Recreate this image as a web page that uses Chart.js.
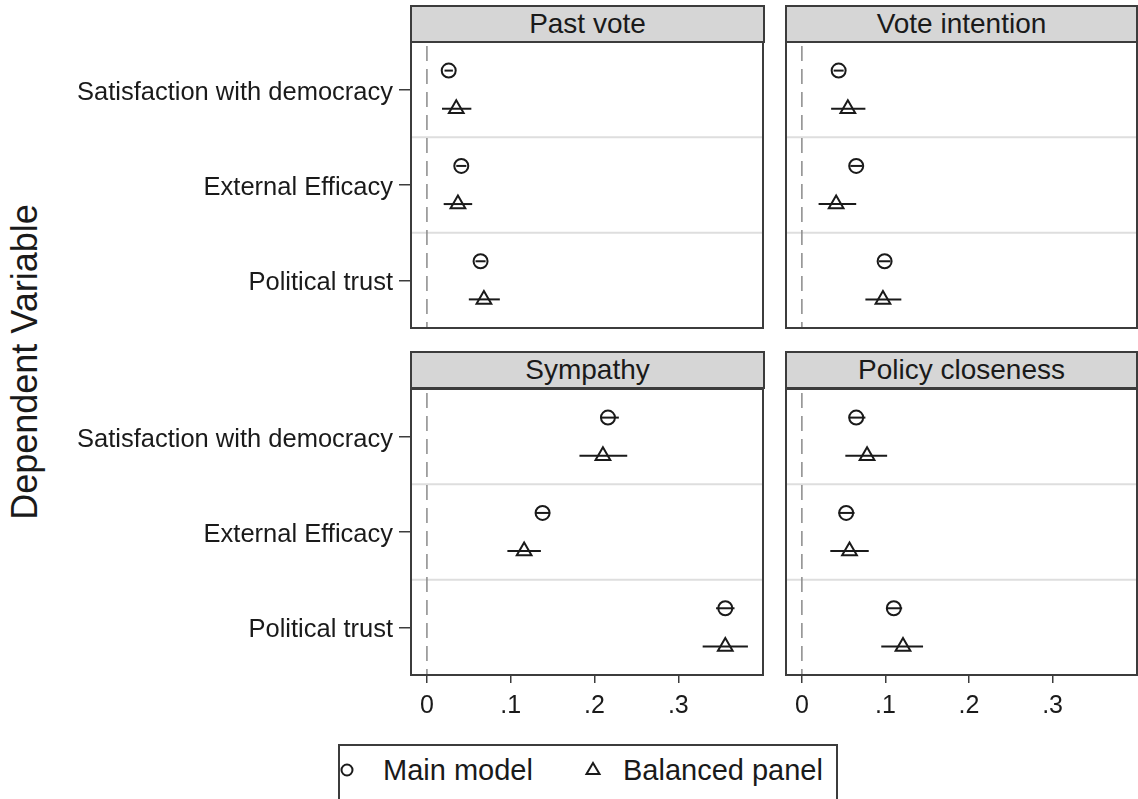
<!DOCTYPE html>
<html>
<head>
<meta charset="utf-8">
<script src="https://cdn.jsdelivr.net/npm/chart.js@4"></script>
<style>
  body { margin: 0; background: #fff; font-family: "Liberation Sans", Arial, sans-serif; color: #1a1a1a; }
  #page { position: relative; width: 1138px; height: 799px; overflow: hidden; }
  canvas { position: absolute; }
  .head {
    position: absolute; box-sizing: border-box; height: 38px;
    background: #d6d6d6; border: 2px solid #3c3c3c;
    font-size: 28px; line-height: 33px; text-align: center; white-space: nowrap;
  }
  #ytitle {
    position: absolute; left: 25px; top: 362px; font-size: 36px; white-space: nowrap;
    transform: translate(-50%, -50%) rotate(-90deg);
  }
  #legend {
    position: absolute; left: 338px; top: 744px; width: 500px; height: 58px; box-sizing: border-box;
    border: 2px solid #3c3c3c; font-size: 29px; white-space: nowrap;
  }
  #legend span { position: absolute; top: 8px; }
  #legend svg { position: absolute; }
</style>
</head>
<body>
<div id="page">
  <div id="ytitle">Dependent Variable</div>
  <div id="legend">
    <svg style="left:0px;top:16px" width="16" height="16"><circle cx="7" cy="8" r="5.5" fill="none" stroke="#1a1a1a" stroke-width="2"/></svg>
    <span style="left:43px">Main model</span>
    <svg style="left:244px;top:15px" width="18" height="16"><polygon points="9,2 15.5,13 2.5,13" fill="none" stroke="#1a1a1a" stroke-width="2"/></svg>
    <span style="left:283px">Balanced panel</span>
  </div>
</div>
<script>
// panels and outcomes
const panelTitles = ["Past vote", "Vote intention", "Sympathy", "Policy closeness"];
const outcomes = ["Satisfaction with democracy", "External Efficacy", "Political trust"];

// main model: coefficient and 95% CI (rows = panels, cols = outcomes)
const mainCoef = [[0.026, 0.041, 0.064], [0.044, 0.065, 0.099], [0.216, 0.138, 0.356], [0.065, 0.053, 0.110]];
const mainLo   = [[0.021, 0.035, 0.058], [0.038, 0.058, 0.092], [0.207, 0.129, 0.345], [0.056, 0.044, 0.101]];
const mainHi   = [[0.031, 0.047, 0.070], [0.050, 0.072, 0.106], [0.229, 0.147, 0.367], [0.076, 0.063, 0.120]];

// balanced panel: coefficient and 95% CI
const balCoef = [[0.035, 0.037, 0.068], [0.055, 0.041, 0.097], [0.210, 0.116, 0.356], [0.078, 0.057, 0.121]];
const balLo   = [[0.018, 0.020, 0.050], [0.035, 0.020, 0.076], [0.182, 0.096, 0.329], [0.052, 0.034, 0.095]];
const balHi   = [[0.053, 0.054, 0.087], [0.076, 0.065, 0.119], [0.239, 0.136, 0.383], [0.102, 0.080, 0.145]];

// x axis ticks
const xTickValues = [0, 0.1, 0.2, 0.3];
const xTickLabels = ["0", ".1", ".2", ".3"];

const ink = "#1a1a1a";
const bandCenter = [2.5, 1.5, 0.5]; // outcome rows, top to bottom
const offset = 0.2;

// separators, zero line and frame
const panelDecor = {
    id: "panelDecor",
    beforeDatasetsDraw(chart) {
        const { ctx, chartArea: a, scales } = chart;
        ctx.save();
        ctx.strokeStyle = "#dedede";
        ctx.lineWidth = 2;
        [1, 2].forEach((v) => {
            const y = scales.y.getPixelForValue(v);
            ctx.beginPath();
            ctx.moveTo(a.left, y);
            ctx.lineTo(a.right, y);
            ctx.stroke();
        });
        const x0 = scales.x.getPixelForValue(0);
        ctx.strokeStyle = "#8a8a8a";
        ctx.lineWidth = 1.5;
        ctx.setLineDash([15, 8]);
        ctx.beginPath();
        ctx.moveTo(x0, a.top + 4);
        ctx.lineTo(x0, a.bottom);
        ctx.stroke();
        ctx.restore();
    },
    afterDraw(chart) {
        const { ctx, chartArea: a } = chart;
        ctx.save();
        ctx.strokeStyle = "#3c3c3c";
        ctx.lineWidth = 2;
        ctx.strokeRect(a.left, a.top, a.right - a.left, a.bottom - a.top);
        ctx.restore();
    }
};

function makePanel(p, box) {
    const page = document.getElementById("page");
    const canvas = document.createElement("canvas");
    canvas.width = box.w;
    canvas.height = box.h;
    canvas.style.left = box.x + "px";
    canvas.style.top = box.y + "px";
    page.appendChild(canvas);

    const head = document.createElement("div");
    head.className = "head";
    head.textContent = panelTitles[p];
    head.style.left = box.hx + "px";
    head.style.top = box.hy + "px";
    head.style.width = box.hw + "px";
    page.appendChild(head);

    const datasets = [];
    outcomes.forEach((o, i) => {
        // CI segments
        datasets.push({
            data: [{ x: mainLo[p][i], y: bandCenter[i] + offset }, { x: mainHi[p][i], y: bandCenter[i] + offset }],
            showLine: true, borderColor: ink, borderWidth: 2, pointRadius: 0
        });
        datasets.push({
            data: [{ x: balLo[p][i], y: bandCenter[i] - offset }, { x: balHi[p][i], y: bandCenter[i] - offset }],
            showLine: true, borderColor: ink, borderWidth: 2, pointRadius: 0
        });
    });
    datasets.push({
        label: "Main model",
        data: outcomes.map((o, i) => ({ x: mainCoef[p][i], y: bandCenter[i] + offset })),
        pointStyle: "circle", pointRadius: 7, pointBorderWidth: 2,
        pointBorderColor: ink, pointBackgroundColor: "rgba(0,0,0,0)"
    });
    datasets.push({
        label: "Balanced panel",
        data: outcomes.map((o, i) => ({ x: balCoef[p][i], y: bandCenter[i] - offset })),
        pointStyle: "triangle", pointRadius: 8.5, pointBorderWidth: 2,
        pointBorderColor: ink, pointBackgroundColor: "rgba(0,0,0,0)"
    });

    new Chart(canvas, {
        type: "scatter",
        data: { datasets },
        options: {
            responsive: false,
            animation: false,
            layout: { padding: box.pad, autoPadding: false },
            plugins: { legend: { display: false }, tooltip: { enabled: false } },
            scales: {
                x: {
                    display: box.showX,
                    min: -0.019,
                    max: 0.401,
                    afterBuildTicks: (s) => { s.ticks = xTickValues.map((v) => ({ value: v })); },
                    afterFit: (s) => {
                        if (box.showX) s.height = 45;
                        s.paddingLeft = 0;
                        s.paddingRight = 0;
                    },
                    ticks: {
                        color: ink,
                        font: { family: "Liberation Sans", size: 25 },
                        padding: 8,
                        maxRotation: 0,
                        callback: (v) => xTickLabels[xTickValues.findIndex((t) => Math.abs(t - v) < 1e-9)]
                    },
                    grid: { drawOnChartArea: false, drawTicks: true, tickLength: 8, color: "#3c3c3c", lineWidth: 1.5 },
                    border: { display: false }
                },
                y: {
                    display: box.showY,
                    min: 0,
                    max: 3,
                    afterBuildTicks: (s) => { s.ticks = bandCenter.map((v) => ({ value: v })); },
                    afterFit: (s) => {
                        if (box.showY) s.width = 411;
                        s.paddingTop = 0;
                        s.paddingBottom = 0;
                    },
                    ticks: {
                        color: ink,
                        font: { family: "Liberation Sans", size: 25.5 },
                        padding: 6,
                        labelOffset: 3,
                        callback: (v) => outcomes[bandCenter.indexOf(v)]
                    },
                    grid: { drawOnChartArea: false, drawTicks: true, tickLength: 12, color: "#3c3c3c", lineWidth: 1.5 },
                    border: { display: false }
                }
            }
        },
        plugins: [panelDecor]
    });
}

// top-left, top-right, bottom-left, bottom-right
makePanel(0, { x: 0, y: 40, w: 766, h: 290, pad: { top: 2, bottom: 2, right: 3, left: 0 }, showX: false, showY: true, hx: 410, hy: 5, hw: 355 });
makePanel(1, { x: 783, y: 40, w: 355, h: 290, pad: { top: 2, bottom: 2, right: 1, left: 3 }, showX: false, showY: false, hx: 785, hy: 5, hw: 353 });
makePanel(2, { x: 0, y: 387, w: 766, h: 335, pad: { top: 2, bottom: 2, right: 3, left: 0 }, showX: true, showY: true, hx: 410, hy: 351, hw: 355 });
makePanel(3, { x: 783, y: 387, w: 355, h: 335, pad: { top: 2, bottom: 2, right: 1, left: 3 }, showX: true, showY: false, hx: 785, hy: 351, hw: 353 });
</script>
</body>
</html>
